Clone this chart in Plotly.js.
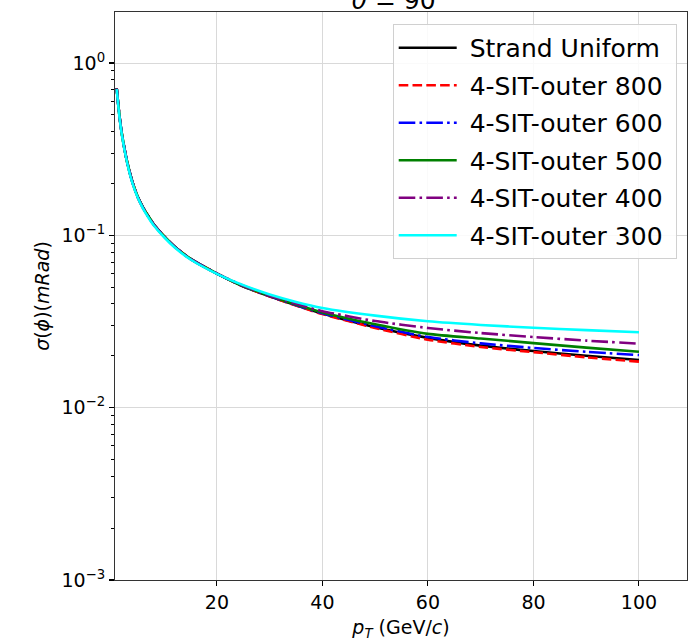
<!DOCTYPE html>
<html>
<head>
<meta charset="utf-8">
<script src="https://cdn.plot.ly/plotly-3.0.1.min.js"></script>
<style>
html,body{margin:0;padding:0;background:#fff;}
#chart{width:692px;height:641px;}
</style>
</head>
<body>
<div id="chart"></div>
<script>
// Data
var pT = [1, 1.5, 2, 3, 4, 5, 6, 7, 8, 10, 12, 15, 20, 25, 30, 35, 40, 50, 60, 70, 80, 90, 100];

var strandUniform = [0.715, 0.50, 0.385, 0.265, 0.203, 0.167, 0.145, 0.129, 0.116, 0.0987, 0.0860, 0.0730, 0.0600, 0.0506, 0.0443, 0.0393, 0.0352, 0.0293, 0.0254, 0.0229, 0.0213, 0.0200, 0.0189];
var sit800 = [0.715, 0.50, 0.385, 0.265, 0.203, 0.167, 0.145, 0.129, 0.116, 0.0987, 0.0860, 0.0730, 0.0600, 0.0505, 0.0442, 0.0391, 0.0349, 0.0290, 0.0248, 0.0225, 0.0210, 0.0196, 0.0185];
var sit600 = [0.715, 0.50, 0.385, 0.265, 0.203, 0.167, 0.145, 0.129, 0.116, 0.0987, 0.0860, 0.0730, 0.0600, 0.0506, 0.0444, 0.0394, 0.0353, 0.0297, 0.0257, 0.0236, 0.0222, 0.0211, 0.0202];
var sit500 = [0.715, 0.50, 0.385, 0.265, 0.203, 0.167, 0.145, 0.129, 0.116, 0.0987, 0.0860, 0.0730, 0.0600, 0.0507, 0.0446, 0.0397, 0.0357, 0.0305, 0.0268, 0.0252, 0.0237, 0.0223, 0.0211];
var sit400 = [0.712, 0.498, 0.383, 0.264, 0.202, 0.166, 0.144, 0.128, 0.1155, 0.0983, 0.0857, 0.0728, 0.0600, 0.0510, 0.0448, 0.0401, 0.0363, 0.0318, 0.0290, 0.0271, 0.0257, 0.0245, 0.0235];
var sit300 = [0.705, 0.493, 0.380, 0.262, 0.200, 0.165, 0.143, 0.127, 0.1145, 0.0975, 0.0850, 0.0724, 0.0598, 0.0514, 0.0454, 0.0411, 0.0379, 0.0342, 0.0317, 0.0302, 0.0291, 0.0282, 0.0274];

var seriesNames = ['Strand Uniform', '4-SIT-outer 800', '4-SIT-outer 600', '4-SIT-outer 500', '4-SIT-outer 400', '4-SIT-outer 300'];
var seriesValues = [strandUniform, sit800, sit600, sit500, sit400, sit300];
var seriesColors = ['#000000', '#ff0000', '#0000ff', '#008000', '#800080', '#00ffff'];
var seriesDash = ['solid', '9.6px,4.2px', '16.6px,4.2px,2.6px,4.2px', 'solid', '16.6px,4.2px,2.6px,4.2px', 'solid'];

var yTickVals = [0.001, 0.01, 0.1, 1];
var yTickText = ['10<sup>\u22123</sup>', '10<sup>\u22122</sup>', '10<sup>\u22121</sup>', '10<sup>0</sup>'];
var yMinor = [];
[0.001, 0.01, 0.1, 1].forEach(function (d) { for (var k = 2; k <= 9; k++) yMinor.push(d * k); });

var traces = seriesNames.map(function (name, i) {
  return {
    x: pT, y: seriesValues[i], name: '\u00a0' + name + '\u00a0', type: 'scatter', mode: 'lines',
    legendgroup: 'g' + i,
    line: {color: seriesColors[i], width: 2.6, dash: seriesDash[i], shape: 'spline', smoothing: 0.6}
  };
});

var font = 'DejaVu Sans, sans-serif';
var layout = {
  width: 692, height: 641,
  margin: {l: 115, r: 5, t: 12, b: 61, pad: 0},
  paper_bgcolor: '#ffffff', plot_bgcolor: '#ffffff',
  font: {family: font, color: '#000', size: 19},
  title: {text: '<i>\u03b8</i> = 90\u00b0', x: 0.578, xanchor: 'center', y: 1, yref: 'container', yanchor: 'middle', font: {family: font, size: 25, color: '#000'}},
  showlegend: true,
  legend: {
    x: 0.982, xanchor: 'right', y: 0.979, yanchor: 'top',
    bgcolor: 'rgba(255,255,255,0.85)', bordercolor: '#d0d0d0', borderwidth: 1,
    font: {family: font, size: 25, color: '#000'},
    tracegroupgap: 2, itemwidth: 58
  },
  xaxis: {
    range: [0.68, 109.1], tickmode: 'linear', tick0: 0, dtick: 20,
    ticks: 'outside', ticklen: 5, tickwidth: 1, tickcolor: '#000',
    showline: true, linecolor: '#333', linewidth: 1, mirror: true,
    showgrid: true, gridcolor: '#d9d9d9', gridwidth: 1, zeroline: false,
    tickfont: {family: font, size: 19, color: '#000'},
    title: {text: '<i>p</i><sub><i>T</i></sub> (GeV/<i>c</i>)', font: {family: font, size: 19, color: '#000'}, standoff: 8}
  },
  yaxis: {
    type: 'log', range: [-3, 0.296],
    tickmode: 'array', tickvals: yTickVals, ticktext: yTickText,
    ticks: 'outside', ticklen: 5, tickwidth: 1.2, tickcolor: '#000',
    minor: {tickmode: 'array', tickvals: yMinor, ticks: 'outside', ticklen: 3, tickwidth: 1, tickcolor: '#000', showgrid: false},
    showline: true, linecolor: '#333', linewidth: 1, mirror: true,
    showgrid: true, gridcolor: '#d9d9d9', gridwidth: 1, zeroline: false,
    tickfont: {family: font, size: 19, color: '#000'},
    title: {text: '<i>\u03c3</i>(<i>\u03d5</i>)(<i>mRad</i>)', font: {family: font, size: 19, color: '#000'}, standoff: 6}
  }
};

Plotly.newPlot('chart', traces, layout, {displayModeBar: false, staticPlot: true});
</script>
</body>
</html>
